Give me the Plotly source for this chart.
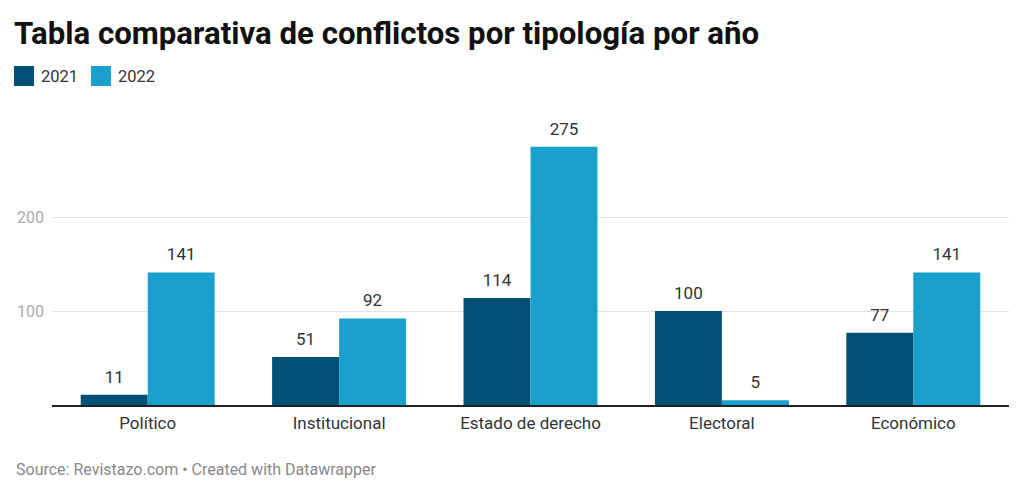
import plotly.graph_objects as go

categories = ["Político", "Institucional", "Estado de derecho", "Electoral", "Económico"]
series_names = ["2021", "2022"]
values_2021 = [11, 51, 114, 100, 77]
values_2022 = [141, 92, 275, 5, 141]
y_ticks = [100, 200]

COL_2021 = "#035076"
COL_2022 = "#1aa0cc"
FONT = "Roboto"

# page has an 8px body margin; figure coordinates are page coordinates minus 8
W, H = 1008, 479
ML, MR, MT, MB = 44, 7, 102, 82

fig = go.Figure()
series = [(series_names[0], values_2021, COL_2021, "g1"), (series_names[1], values_2022, COL_2022, "g2")]
for name, vals, col, grp in series:
    fig.add_trace(go.Bar(
        x=categories, y=vals, name=name, marker=dict(color=col, line=dict(width=0)),
        offsetgroup=grp, alignmentgroup="all", showlegend=False,
    ))
for name, vals, col, grp in series:
    fig.add_trace(go.Scatter(
        x=categories, y=vals, mode="markers+text", text=[str(v) for v in vals],
        textposition="top center", offsetgroup=grp, alignmentgroup="all",
        marker=dict(size=11, opacity=0, color=col), cliponaxis=False,
        textfont=dict(family=FONT, size=17, color="#333333"),
        showlegend=False, hoverinfo="skip",
    ))

pw = W - ML - MR
ph = H - MT - MB

def px_x(px):
    return (px - ML) / pw

def px_y(py):
    return (H - MB - py) / ph

# manual legend
legend_items = [(series_names[0], COL_2021, 6), (series_names[1], COL_2022, 83)]
for name, col, x0 in legend_items:
    fig.add_shape(type="rect", xref="paper", yref="paper",
                  x0=px_x(x0), x1=px_x(x0 + 20), y0=px_y(78), y1=px_y(58),
                  fillcolor=col, line=dict(width=0))
    fig.add_annotation(text=name, xref="paper", yref="paper", x=px_x(x0 + 25), y=px_y(68),
                       xanchor="left", yanchor="middle", showarrow=False,
                       font=dict(family=FONT, size=16.5, color="#333333"))

fig.add_annotation(text="Source: Revistazo.com • Created with Datawrapper",
                   xref="paper", yref="paper", x=px_x(6), y=px_y(461),
                   xanchor="left", yanchor="middle", showarrow=False,
                   font=dict(family=FONT, size=16, color="#888888"))

fig.update_layout(
    width=W, height=H,
    margin=dict(l=ML, r=MR, t=MT, b=MB, pad=0),
    paper_bgcolor="white", plot_bgcolor="white",
    title=dict(text="<b>Tabla comparativa de conflictos por tipología por año</b>",
               x=6 / W, xanchor="left", y=1 - 25 / H, yanchor="middle",
               font=dict(family=FONT, size=31.2, color="#111111")),
    barmode="group", bargap=0.30, bargroupgap=0,
    scattermode="group", scattergap=0.30,
    font=dict(family=FONT),
    showlegend=False,
)
fig.update_xaxes(showgrid=False, showline=True, linecolor="#222222", linewidth=1.5,
                 ticks="", tickfont=dict(family=FONT, size=17, color="#333333"),
                 ticklabelstandoff=2)
fig.update_yaxes(range=[0, 314], tickvals=y_ticks, showgrid=True, gridcolor="#e2e2e2",
                 gridwidth=1, zeroline=False, showline=False, ticks="",
                 tickfont=dict(family=FONT, size=16, color="#aaaaaa"),
                 ticklabelstandoff=7)

fig.write_html("out.html")
